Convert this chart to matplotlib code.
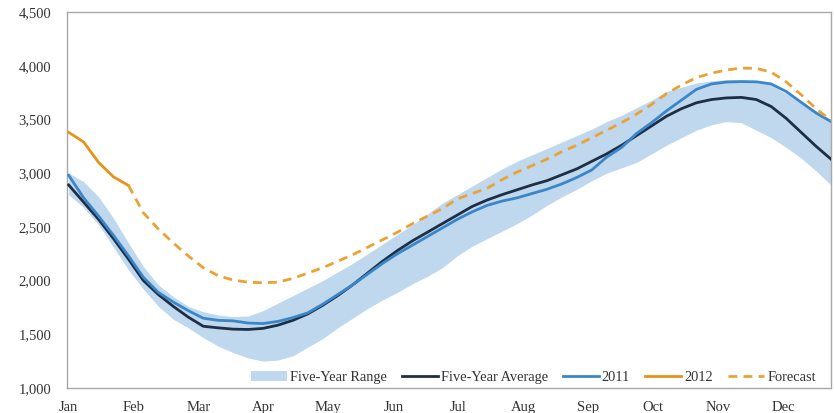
import matplotlib
matplotlib.use("Agg")
import matplotlib.pyplot as plt
import numpy as np

months = ["Jan", "Feb", "Mar", "Apr", "May", "Jun", "Jul", "Aug", "Sep", "Oct", "Nov", "Dec"]
yticks = [1000, 1500, 2000, 2500, 3000, 3500, 4000, 4500]

# weekly values (52 weeks)
range_upper = [3000, 2920, 2780, 2580, 2350, 2130, 1960, 1850, 1760, 1710, 1680, 1665, 1670,
               1720, 1790, 1860, 1930, 2000, 2080, 2160, 2250, 2340, 2430, 2520, 2620, 2720,
               2800, 2880, 2960, 3040, 3110, 3170, 3230, 3290, 3350, 3410, 3480, 3540, 3610,
               3680, 3760, 3800, 3840, 3860, 3870, 3870, 3860, 3820, 3740, 3660, 3580, 3500]
range_lower = [2800, 2680, 2520, 2310, 2100, 1920, 1760, 1640, 1560, 1470, 1390, 1330, 1280,
               1250, 1260, 1300, 1380, 1460, 1560, 1650, 1740, 1820, 1890, 1970, 2040, 2120,
               2230, 2320, 2390, 2460, 2530, 2610, 2700, 2780, 2850, 2930, 3000, 3050, 3100,
               3180, 3260, 3330, 3400, 3450, 3480, 3470, 3400, 3330, 3240, 3140, 3020, 2890]
five_year_avg = [2890, 2730, 2570, 2390, 2200, 2000, 1870, 1760, 1660, 1575, 1560, 1548, 1545,
                 1555, 1585, 1630, 1690, 1770, 1860, 1960, 2070, 2180, 2280, 2370, 2450, 2530,
                 2610, 2690, 2750, 2800, 2845, 2890, 2930, 2985, 3040, 3110, 3180, 3260, 3350,
                 3440, 3530, 3600, 3655, 3685, 3700, 3705, 3685, 3620, 3510, 3380, 3250, 3130]
y2011 = [2980, 2770, 2600, 2420, 2230, 2030, 1890, 1800, 1720, 1650, 1630, 1625, 1605,
         1600, 1620, 1655, 1700, 1780, 1870, 1960, 2060, 2160, 2250, 2330, 2410, 2490,
         2570, 2640, 2700, 2740, 2770, 2810, 2850, 2900, 2960, 3030, 3150, 3240, 3370,
         3470, 3580, 3680, 3780, 3830, 3848, 3852, 3850, 3830, 3760, 3660, 3560, 3480]
y2012 = [3380, 3290, 3100, 2965, 2885]
forecast = [2885, 2630, 2480, 2350, 2230, 2120, 2045, 2005, 1985, 1980, 1985, 2020, 2070,
            2120, 2180, 2240, 2310, 2380, 2450, 2530, 2600, 2670, 2760, 2810, 2860, 2940,
            3010, 3070, 3130, 3200, 3260, 3330, 3400, 3470, 3550, 3640, 3740, 3820, 3890,
            3930, 3960, 3978, 3975, 3940, 3850, 3730, 3600, 3490]

n_weeks = len(five_year_avg)
wk = np.arange(n_weeks) * 12 / 52.14  # x in month units
x2012 = wk[:len(y2012)]
xfc = wk[len(y2012) - 1:len(y2012) - 1 + len(forecast)]

plt.rcParams['font.family'] = ['Liberation Serif', 'DejaVu Serif']

fig = plt.figure(figsize=(8.34, 4.13), dpi=100)
ax = fig.add_axes([0.080, 0.0605, 0.9164, 0.9105])

c_band = "#bfd8ee"
c_avg = "#1e2f45"
c_2011 = "#3b86c9"
c_2012 = "#e8921c"
c_fc = "#eba235"

ax.fill_between(wk, range_lower, range_upper, color=c_band, lw=0, label="Five-Year Range", zorder=1)
ax.plot(wk, five_year_avg, color=c_avg, lw=2.0, label="Five-Year Average", zorder=3)
ax.plot(wk, y2011, color=c_2011, lw=2.0, label="2011", zorder=3)
ax.plot(x2012, y2012, color=c_2012, lw=2.0, label="2012", zorder=4)
ax.plot(xfc, forecast, color=c_fc, lw=2.0, ls=(0, (3.2, 2.2)), label="Forecast", zorder=4)

ax.set_xlim(-0.03, wk[-1])
ax.set_ylim(1000, 4500)
ax.set_xticks(range(12))
ax.set_xticklabels(months)
ax.set_yticks(yticks)
ax.set_yticklabels([f"{v:,}" for v in yticks])
ax.tick_params(axis='both', length=0, labelsize=10.5, colors="#333333")
ax.tick_params(axis='x', pad=9)
ax.tick_params(axis='y', pad=11)
for s in ax.spines.values():
    s.set_color("#a8a8a8")
    s.set_linewidth(1.0)

leg = ax.legend(ncol=5, loc='lower right', bbox_to_anchor=(0.997, -0.025), frameon=False,
                fontsize=10.4, handlelength=2.5, handletextpad=0.2, columnspacing=1.05,
                labelcolor="#333333")

fig.savefig("out.png", dpi=100)
